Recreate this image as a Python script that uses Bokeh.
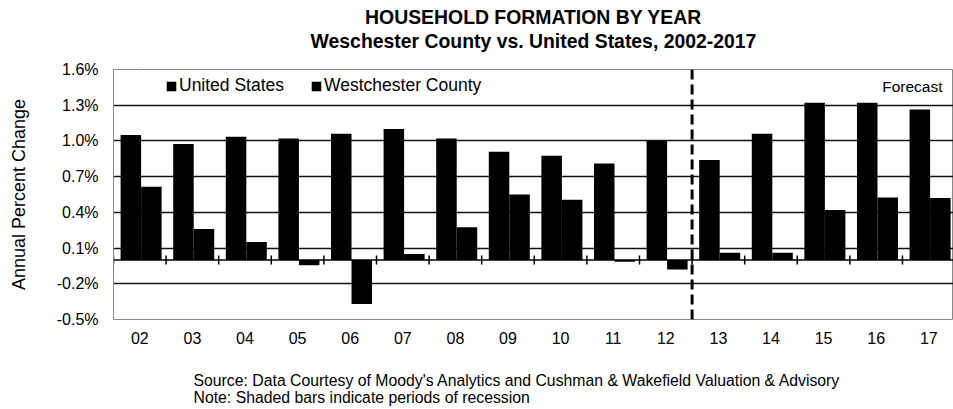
import numpy as np
from bokeh.plotting import figure
from bokeh.models import (Range1d, FixedTicker, PrintfTickFormatter, Span, Title,
                          Legend, LegendItem, Label, ColumnDataSource, LinearAxis)
from bokeh.transform import dodge
from bokeh.embed import file_html
from bokeh.resources import INLINE

# ---------------- data ----------------
years = ["02", "03", "04", "05", "06", "07", "08", "09",
         "10", "11", "12", "13", "14", "15", "16", "17"]
us_change = [1.05, 0.975, 1.035, 1.02, 1.06, 1.10, 1.02, 0.91,
             0.875, 0.81, 1.00, 0.84, 1.06, 1.32, 1.32, 1.265]
wc_change = [0.615, 0.26, 0.15, -0.045, -0.37, 0.05, 0.275, 0.55,
             0.505, -0.015, -0.08, 0.06, 0.06, 0.42, 0.525, 0.52]
y_ticks = [-0.5, -0.2, 0.1, 0.4, 0.7, 1.0, 1.3, 1.6]
forecast_start = "13"

title_1 = "HOUSEHOLD FORMATION BY YEAR"
title_2 = "Weschester County vs. United States, 2002-2017"
notes_text = ("Source: Data Courtesy of Moody's Analytics and Cushman & Wakefield Valuation & Advisory\n"
              "Note: Shaded bars indicate periods of recession")

FONT = "Liberation Sans"

centers = [i + 0.5 for i in range(len(years))]
bounds = list(range(len(years) + 1))
src = ColumnDataSource(dict(x=centers, year=years, us=us_change, wc=wc_change))

x_end = 15.97
p = figure(width=953, height=409, output_backend="svg", toolbar_location=None,
           x_range=Range1d(0, x_end), y_range=Range1d(y_ticks[0], y_ticks[-1]),
           title=None, min_border=0, min_border_left=113, min_border_right=0,
           min_border_top=69, min_border_bottom=90)
p.background_fill_color = "white"
p.border_fill_color = "white"
p.outline_line_color = "#888888"
p.outline_line_width = 1

# grid
p.xgrid.visible = False
p.ygrid.ticker = FixedTicker(ticks=y_ticks[:-1])
p.ygrid.grid_line_color = "#111111"
p.ygrid.grid_line_width = 1.6

# bars
r_us = p.vbar(x=dodge("x", -0.17, range=p.x_range), top="us", width=0.39,
              source=src, fill_color="black", line_color=None)
r_wc = p.vbar(x=dodge("x", 0.22, range=p.x_range), top="wc", width=0.39,
              source=src, fill_color="black", line_color=None)

# zero line with tick marks at category boundaries
p.add_layout(Span(location=0, dimension="width", line_color="black", line_width=1.5))
p.scatter(x=bounds, y=[0] * len(bounds), marker="dash", angle=np.pi / 2, size=9,
          line_color="black", line_width=1.5)

# forecast divider
p.add_layout(Span(location=years.index(forecast_start), dimension="height",
                  line_color="black", line_width=3, line_dash="10 5"))
p.add_layout(Label(x=x_end, y=y_ticks[-1], x_offset=-11, y_offset=-8,
                   text="Forecast", text_align="right", text_baseline="top",
                   text_font=FONT, text_font_size="15.5px", text_color="black"))

# axes
p.yaxis.ticker = FixedTicker(ticks=y_ticks)
p.yaxis.formatter = PrintfTickFormatter(format="%.1f%%")
p.yaxis.major_label_text_font = FONT
p.yaxis.major_label_text_font_size = "16px"
p.yaxis.major_label_text_color = "black"
p.yaxis.major_tick_out = 0
p.yaxis.major_tick_in = 0
p.yaxis.minor_tick_out = 0
p.yaxis.minor_tick_in = 0
p.yaxis.major_label_standoff = 15
p.yaxis.axis_line_color = "#888888"
p.yaxis.axis_label = "Annual Percent Change"
p.yaxis.axis_label_text_font = FONT
p.yaxis.axis_label_text_font_size = "18px"
p.yaxis.axis_label_text_font_style = "normal"
p.yaxis.axis_label_text_color = "black"
p.yaxis.axis_label_standoff = 25

p.xaxis.ticker = FixedTicker(ticks=centers)
p.xaxis.major_label_overrides = {c: y for c, y in zip(centers, years)}
p.xaxis.major_label_text_font = FONT
p.xaxis.major_label_text_font_size = "16px"
p.xaxis.major_label_text_color = "black"
p.xaxis.major_tick_out = 0
p.xaxis.major_tick_in = 0
p.xaxis.minor_tick_out = 0
p.xaxis.minor_tick_in = 0
p.xaxis.axis_line_color = None
p.xaxis.major_label_standoff = 12

# legend
legend = Legend(items=[LegendItem(label="United States", renderers=[r_us]),
                       LegendItem(label="Westchester County", renderers=[r_wc])],
                location=(52, 223), orientation="horizontal",
                border_line_color=None, background_fill_alpha=0,
                padding=0, margin=0, spacing=26, label_standoff=2,
                glyph_width=12, glyph_height=12, label_height=20,
                label_text_font=FONT, label_text_font_size="17.5px",
                label_text_color="black")
p.add_layout(legend)


def spacer(size):
    """An axis with one invisible tick, used only to reserve space in a side panel."""
    return LinearAxis(ticker=FixedTicker(ticks=[centers[0]]),
                      major_label_overrides={centers[0]: ""},
                      major_label_text_font_size="0px",
                      major_tick_out=size, major_tick_in=0,
                      minor_tick_out=0, minor_tick_in=0, axis_line_color=None,
                      major_tick_line_color="white", minor_tick_line_color=None,
                      major_label_standoff=0)


# titles (first added sits closest to the plot)
p.add_layout(spacer(18), "above")
p.add_layout(Title(text=title_2, align="center", text_font=FONT,
                   text_font_size="19.4px", text_font_style="bold",
                   text_color="black", standoff=0), "above")
p.add_layout(Title(text=title_1, align="center", text_font=FONT,
                   text_font_size="19.4px", text_font_style="bold",
                   text_color="black", standoff=0), "above")

# notes
p.add_layout(spacer(23), "below")
p.add_layout(Title(text=notes_text, align="left", offset=80, text_font=FONT,
                   text_font_size="15.8px", text_font_style="normal",
                   text_color="black", text_line_height=1.05, standoff=0), "below")

open("out.html", "w").write(file_html(p, INLINE))
